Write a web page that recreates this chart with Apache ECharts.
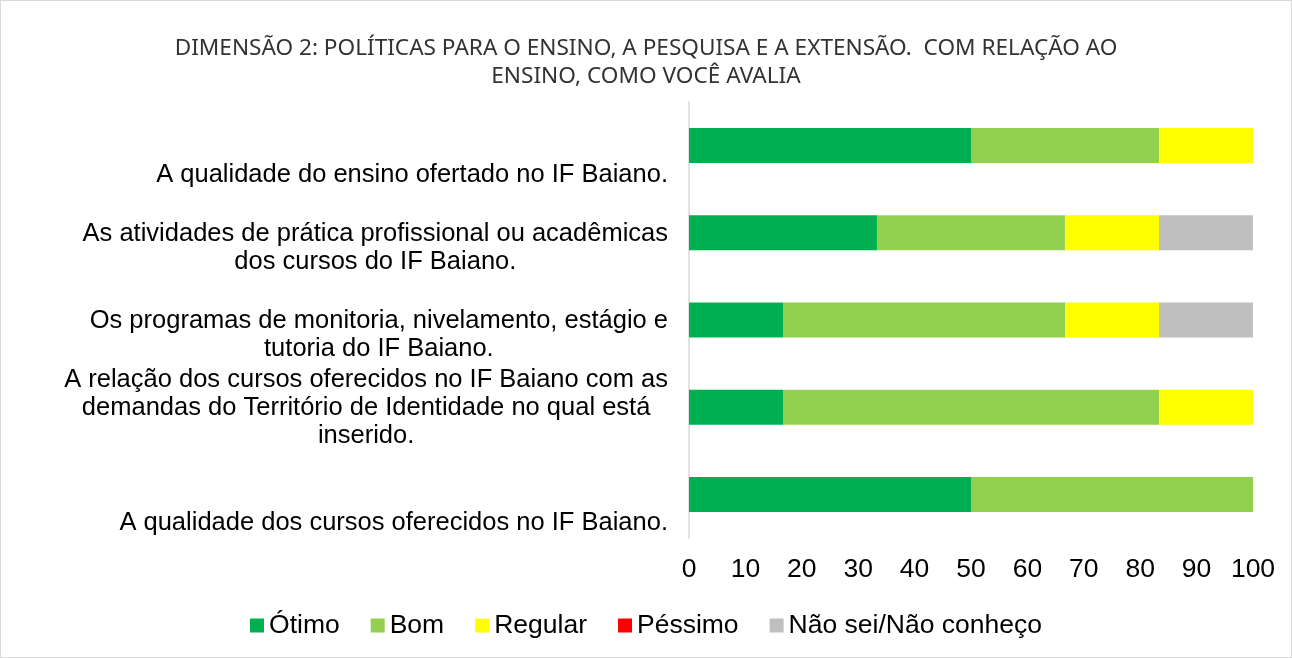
<!DOCTYPE html>
<html>
<head>
<meta charset="utf-8">
<script src="https://cdn.jsdelivr.net/npm/echarts@6/dist/echarts.min.js"></script>
<style>
  html, body { margin: 0; padding: 0; background: #fff; }
  #chart { width: 1290px; height: 656px; border: 1px solid #d9d9d9; }
</style>
</head>
<body>
<div id="chart"></div>
<script>
// Categories, top to bottom as shown
const categories = [
  "A qualidade do ensino ofertado no IF Baiano.",
  "As atividades de prática profissional ou acadêmicas\ndos cursos do IF Baiano.",
  "Os programas de monitoria, nivelamento, estágio e\ntutoria do IF Baiano.",
  "A relação dos cursos oferecidos no IF Baiano com as\ndemandas do Território de Identidade no qual está\ninserido.",
  "A qualidade dos cursos oferecidos no IF Baiano.",
];

// Percentages per answer (same order as categories)
const otimo = [50, 33.33, 16.67, 16.67, 50];
const bom = [33.33, 33.33, 50, 66.67, 50];
const regular = [16.67, 16.67, 16.67, 16.67, 0];
const pessimo = [0, 0, 0, 0, 0];
const naoSei = [0, 16.67, 16.67, 0, 0];

const xTicks = [0, 10, 20, 30, 40, 50, 60, 70, 80, 90, 100];

const seriesDefs = [
  { name: "Ótimo", data: otimo, color: "#00B050" },
  { name: "Bom", data: bom, color: "#92D050" },
  { name: "Regular", data: regular, color: "#FFFF00" },
  { name: "Péssimo", data: pessimo, color: "#FF0000" },
  { name: "Não sei/Não conheço", data: naoSei, color: "#BFBFBF" },
];

const FONT = "Liberation Sans";

const chart = echarts.init(document.getElementById("chart"));

chart.setOption({
  animation: false,
  title: {
    text: "DIMENSÃO 2: POLÍTICAS PARA O ENSINO, A PESQUISA E A EXTENSÃO.  COM RELAÇÃO AO\nENSINO, COMO VOCÊ AVALIA",
    left: "center",
    top: 29,
    textStyle: {
      fontFamily: "Noto Sans",
      fontWeight: "normal",
      fontSize: 22.6,
      lineHeight: 28,
      color: "#333",
    },
  },
  legend: {
    top: 611,
    left: "center",
    padding: 0,
    itemWidth: 14,
    itemHeight: 14,
    itemGap: 31,
    icon: "rect",
    textStyle: {
      fontFamily: FONT,
      fontSize: 26.5,
      color: "#000",
    },
    data: seriesDefs.map(s => s.name),
  },
  grid: {
    left: 688,
    right: 38,
    top: 101,
    bottom: 119,
  },
  xAxis: {
    type: "value",
    min: 0,
    max: 100,
    interval: 10,
    splitLine: { show: false },
    axisLine: { show: false },
    axisTick: { show: false },
    axisLabel: {
      fontFamily: FONT,
      fontSize: 26.5,
      color: "#000",
      margin: 18,
      formatter: v => (xTicks.indexOf(v) >= 0 ? String(v) : ""),
    },
  },
  yAxis: {
    type: "category",
    inverse: true,
    data: categories,
    axisTick: { show: false },
    axisLine: { show: true, lineStyle: { color: "#d9d9d9", width: 1.5 } },
    axisLabel: {
      interval: 0,
      margin: 21,
      align: "right",
      verticalAlign: "bottom",
      padding: [0, 0, -43, 0],
      formatter: v => v.split("\n").map(l => "{c|" + l + "}").join("\n"),
      rich: {
        c: {
          align: "center",
          fontFamily: FONT,
          fontSize: 25.5,
          lineHeight: 28,
          color: "#000",
        },
      },
    },
  },
  series: seriesDefs.map(s => ({
    name: s.name,
    type: "bar",
    stack: "total",
    barWidth: 35,
    itemStyle: { color: s.color },
    data: s.data,
  })),
});
</script>
</body>
</html>
